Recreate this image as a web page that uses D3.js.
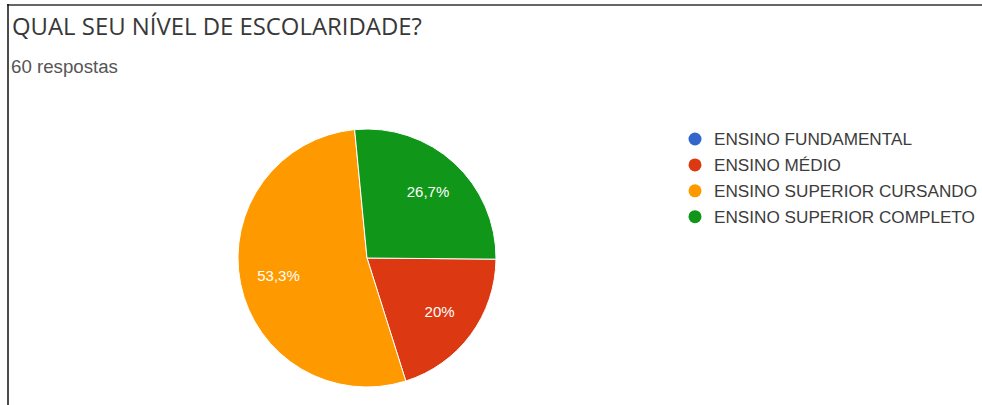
<!DOCTYPE html>
<html>
<head>
<meta charset="utf-8">
<script src="https://cdn.jsdelivr.net/npm/d3@7"></script>
<style>
  html, body { margin: 0; padding: 0; background: #fff; }
  svg { display: block; }
</style>
</head>
<body>
<svg id="chart" width="982" height="405"></svg>
<script>
// Survey answers: education level (60 responses)
const categories = ["ENSINO FUNDAMENTAL", "ENSINO MÉDIO", "ENSINO SUPERIOR CURSANDO", "ENSINO SUPERIOR COMPLETO"];
const counts = [0, 12, 32, 16];
const percentLabels = ["0%", "20%", "53,3%", "26,7%"];
const colors = ["#3366cc", "#dc3912", "#ff9900", "#109618"];
const titleText = "QUAL SEU NÍVEL DE ESCOLARIDADE?";
const subtitleText = "60 respostas";

const svg = d3.select("#chart");
const W = 982, H = 405;

// scale a text element's font size so it spans the given width
function fitWidth(sel, baseSize, width) {
  const w = sel.node().getComputedTextLength();
  sel.attr("font-size", baseSize * width / w);
}

// card frame: top and left edges
svg.append("line").attr("x1", 7).attr("x2", W).attr("y1", 5).attr("y2", 5)
  .attr("stroke", "#666").attr("stroke-width", 2);
svg.append("line").attr("x1", 8).attr("x2", 8).attr("y1", 4).attr("y2", H)
  .attr("stroke", "#111").attr("stroke-width", 1.5);

// title
const title = svg.append("text")
  .attr("x", 12).attr("y", 35)
  .attr("font-family", "'Open Sans', Roboto, sans-serif")
  .attr("font-size", 20)
  .attr("fill", "#383838")
  .text(titleText);
fitWidth(title, 20, 410);

const sub = svg.append("text")
  .attr("x", 11).attr("y", 73)
  .attr("font-family", "'Liberation Sans', Arial, sans-serif")
  .attr("font-size", 14)
  .attr("fill", "#555")
  .text(subtitleText);
fitWidth(sub, 14, 107);

// pie
const cx = 367, cy = 258, r = 129;
const start = 90.5 * Math.PI / 180;
const pie = d3.pie().sort(null).value(d => d)
  .startAngle(start).endAngle(start + 2 * Math.PI);
const arcs = pie(counts);
const arc = d3.arc().innerRadius(0).outerRadius(r);
const labelArc = d3.arc().innerRadius(r * 0.7).outerRadius(r * 0.7);

const g = svg.append("g").attr("transform", `translate(${cx},${cy})`);
g.selectAll("path.slice")
  .data(arcs)
  .join("path")
  .attr("class", "slice")
  .attr("d", arc)
  .attr("fill", (d, i) => colors[i])
  .attr("stroke", "#fff")
  .attr("stroke-width", 1);

g.selectAll("text.pct")
  .data(arcs.filter(d => d.data > 0))
  .join("text")
  .attr("class", "pct")
  .attr("transform", d => `translate(${labelArc.centroid(d)})`)
  .attr("text-anchor", "middle")
  .attr("dy", "0.36em")
  .attr("font-family", "'Liberation Sans', Arial, sans-serif")
  .attr("font-size", 15)
  .attr("fill", "#fff")
  .text(d => percentLabels[d.index]);

// legend
const legend = svg.append("g").attr("transform", "translate(695,139)");
const items = legend.selectAll("g")
  .data(categories)
  .join("g")
  .attr("transform", (d, i) => `translate(0,${i * 25.9})`);
items.append("circle").attr("r", 6.5).attr("fill", (d, i) => colors[i]);
const ltext = items.append("text")
  .attr("x", 19).attr("dy", "0.36em")
  .attr("font-family", "'Liberation Sans', Arial, sans-serif")
  .attr("font-size", 14)
  .attr("fill", "#3c3c3c")
  .text(d => d);
// longest entry spans to the right edge of the card
const longest = ltext.filter(d => d === categories[3]);
const lw = longest.node().getComputedTextLength();
ltext.attr("font-size", 14 * 261 / lw);
</script>
</body>
</html>
